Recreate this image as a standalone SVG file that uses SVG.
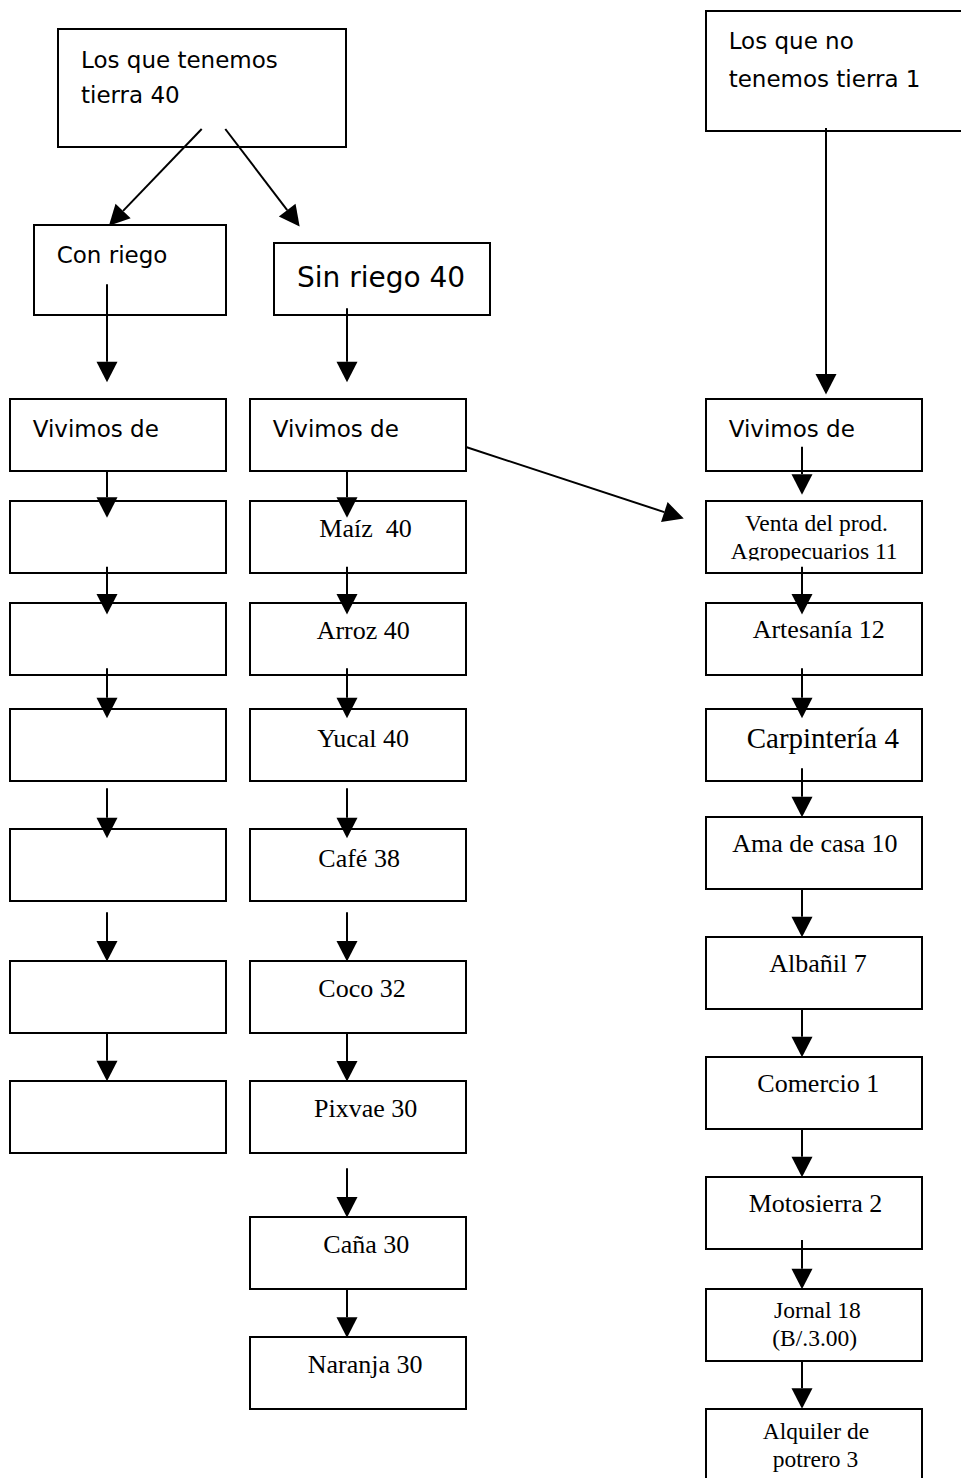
<svg xmlns="http://www.w3.org/2000/svg" width="961" height="1478" viewBox="0 0 961 1478">
<style>
rect.b{fill:#fff;stroke:#000;stroke-width:2}
.s{font-family:"DejaVu Sans",sans-serif;font-size:23px;fill:#000}
.t{font-family:"Liberation Serif",serif;font-size:26px;fill:#000}
.sm{font-size:23.5px}
#edges line{stroke:#000;stroke-width:2;marker-end:url(#ah)}
</style>
<defs>
<marker id="ah" markerUnits="userSpaceOnUse" markerWidth="22" markerHeight="22" viewBox="0 -11 21 22" refX="0" refY="0" orient="auto">
<path d="M0,-10.5 L20.5,0 L0,10.5 z" fill="#000"/>
</marker>
<clipPath id="cv"><rect x="706" y="501" width="216" height="59.5"/></clipPath>
</defs>
<rect width="961" height="1478" fill="#fff"/>
<g id="nodes">
<g id="n_tierra"><rect class="b" x="58" y="29" width="288" height="118"/><text class="s" x="81" y="67.7">Los que tenemos</text><text class="s" x="81" y="103.3">tierra 40</text></g>
<g id="n_con_riego"><rect class="b" x="34" y="225" width="192" height="90"/><text class="s" x="56.7" y="263.3">Con riego</text></g>
<g id="n_sin_riego"><rect class="b" x="274" y="243" width="216" height="72"/><text class="s" x="297" y="286.7" style="font-size:28px">Sin riego 40</text></g>
<g id="n_no_tierra"><rect class="b" x="706" y="11" width="262" height="120"/><text class="s" x="728.7" y="49.3">Los que no</text><text class="s" x="728.7" y="87.3">tenemos tierra 1</text></g>
<g id="n_viv_l"><rect class="b" x="10" y="399" width="216" height="72"/><text class="s" x="32.7" y="436.7">Vivimos de</text></g>
<g id="n_viv_m"><rect class="b" x="250" y="399" width="216" height="72"/><text class="s" x="272.7" y="436.7">Vivimos de</text></g>
<g id="n_viv_r"><rect class="b" x="706" y="399" width="216" height="72"/><text class="s" x="728.7" y="436.7">Vivimos de</text></g>
<g id="n_l1"><rect class="b" x="10" y="501" width="216" height="72"/></g>
<g id="n_l2"><rect class="b" x="10" y="603" width="216" height="72"/></g>
<g id="n_l3"><rect class="b" x="10" y="709" width="216" height="72"/></g>
<g id="n_l4"><rect class="b" x="10" y="829" width="216" height="72"/></g>
<g id="n_l5"><rect class="b" x="10" y="961" width="216" height="72"/></g>
<g id="n_l6"><rect class="b" x="10" y="1081" width="216" height="72"/></g>
<g id="n_maiz"><rect class="b" x="250" y="501" width="216" height="72"/><text class="t" x="319.3" y="536.7" xml:space="preserve">Maíz  40</text></g>
<g id="n_arroz"><rect class="b" x="250" y="603" width="216" height="72"/><text class="t" x="316.7" y="639">Arroz 40</text></g>
<g id="n_yucal"><rect class="b" x="250" y="709" width="216" height="72"/><text class="t" x="317.3" y="746.7">Yucal 40</text></g>
<g id="n_cafe"><rect class="b" x="250" y="829" width="216" height="72"/><text class="t" x="318.3" y="866.7">Café 38</text></g>
<g id="n_coco"><rect class="b" x="250" y="961" width="216" height="72"/><text class="t" x="318.3" y="996.7">Coco 32</text></g>
<g id="n_pixvae"><rect class="b" x="250" y="1081" width="216" height="72"/><text class="t" x="314" y="1116.7">Pixvae 30</text></g>
<g id="n_cana"><rect class="b" x="250" y="1217" width="216" height="72"/><text class="t" x="323.3" y="1252.7">Caña 30</text></g>
<g id="n_naranja"><rect class="b" x="250" y="1337" width="216" height="72"/><text class="t" x="307.7" y="1372.7">Naranja 30</text></g>
<g id="n_venta"><rect class="b" x="706" y="501" width="216" height="72"/><g clip-path="url(#cv)"><text class="t sm" x="745" y="530.7">Venta del prod.</text><text class="t sm" x="730.7" y="559">Agropecuarios 11</text></g></g>
<g id="n_artesania"><rect class="b" x="706" y="603" width="216" height="72"/><text class="t" x="752.7" y="638.3">Artesanía 12</text></g>
<g id="n_carpinteria"><rect class="b" x="706" y="709" width="216" height="72"/><text class="t" x="746.7" y="748" style="font-size:29px">Carpintería 4</text></g>
<g id="n_ama"><rect class="b" x="706" y="817" width="216" height="72"/><text class="t" x="732.3" y="851.7">Ama de casa 10</text></g>
<g id="n_albanil"><rect class="b" x="706" y="937" width="216" height="72"/><text class="t" x="769.3" y="972">Albañil 7</text></g>
<g id="n_comercio"><rect class="b" x="706" y="1057" width="216" height="72"/><text class="t" x="757.3" y="1092">Comercio 1</text></g>
<g id="n_moto"><rect class="b" x="706" y="1177" width="216" height="72"/><text class="t" x="748.7" y="1212">Motosierra 2</text></g>
<g id="n_jornal"><rect class="b" x="706" y="1289" width="216" height="72"/><text class="t sm" x="774" y="1318">Jornal 18</text><text class="t sm" x="772.3" y="1346">(B/.3.00)</text></g>
<g id="n_alquiler"><rect class="b" x="706" y="1409" width="216" height="80"/><text class="t sm" x="762.7" y="1439">Alquiler de</text><text class="t sm" x="772.7" y="1467.3">potrero 3</text></g>
</g>
<g id="edges">
<line x1="201.7" y1="129" x2="123.1" y2="210.9"/>
<line x1="225.3" y1="129" x2="287.2" y2="210.1"/>
<line x1="466" y1="447" x2="664.3" y2="512.1"/>
<line x1="826" y1="128" x2="826" y2="374"/>
<line x1="107" y1="284.3" x2="107" y2="361.7"/>
<line x1="107" y1="471" x2="107" y2="497.3"/>
<line x1="107" y1="566.7" x2="107" y2="594"/>
<line x1="107" y1="668.3" x2="107" y2="697.7"/>
<line x1="107" y1="788.3" x2="107" y2="817.7"/>
<line x1="107" y1="912.3" x2="107" y2="941"/>
<line x1="107" y1="1033" x2="107" y2="1060.7"/>
<line x1="347" y1="308.3" x2="347" y2="361.7"/>
<line x1="347" y1="471" x2="347" y2="497.3"/>
<line x1="347" y1="566.7" x2="347" y2="594"/>
<line x1="347" y1="668.3" x2="347" y2="697.7"/>
<line x1="347" y1="788.3" x2="347" y2="817.7"/>
<line x1="347" y1="912.3" x2="347" y2="941"/>
<line x1="347" y1="1033" x2="347" y2="1061"/>
<line x1="347" y1="1168.3" x2="347" y2="1197"/>
<line x1="347" y1="1289" x2="347" y2="1317.3"/>
<line x1="802" y1="446.7" x2="802" y2="474.3"/>
<line x1="802" y1="566.7" x2="802" y2="594"/>
<line x1="802" y1="668.3" x2="802" y2="697.7"/>
<line x1="802" y1="768.3" x2="802" y2="796.7"/>
<line x1="802" y1="889" x2="802" y2="916.8"/>
<line x1="802" y1="1009" x2="802" y2="1036.8"/>
<line x1="802" y1="1129" x2="802" y2="1156.8"/>
<line x1="802" y1="1240" x2="802" y2="1268.8"/>
<line x1="802" y1="1361" x2="802" y2="1388.3"/>
</g>
</svg>
